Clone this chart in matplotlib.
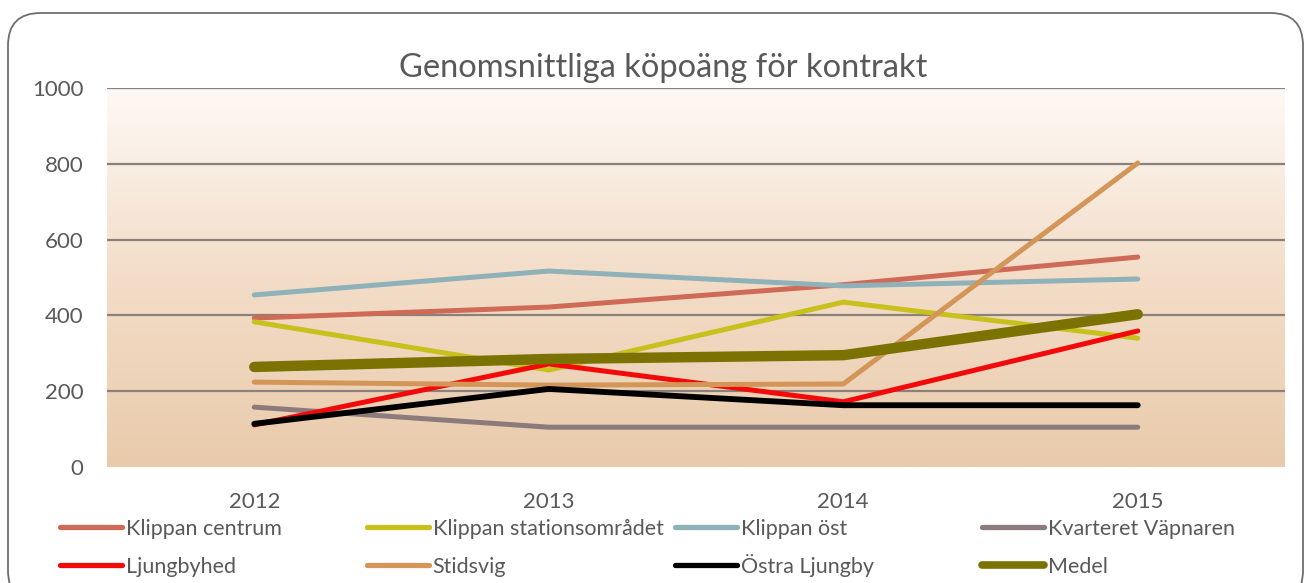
import matplotlib
matplotlib.use("Agg")
import matplotlib.pyplot as plt
import numpy as np
from matplotlib.patches import FancyBboxPatch
from matplotlib.lines import Line2D
from matplotlib.colors import LinearSegmentedColormap

plt.rcParams['font.family'] = ['Lato', 'DejaVu Sans']

years = ["2012", "2013", "2014", "2015"]
klippan_centrum = [393, 422, 481, 554]
klippan_station = [383, 256, 435, 340]
klippan_ost = [454, 517, 478, 496]
kvarteret_vapnaren = [158, 105, 105, 105]
ljungbyhed = [111, 272, 172, 359]
stidsvig = [224, 216, 219, 802]
ostra_ljungby = [114, 206, 163, 163]
medel = [264, 285, 295, 403]

series_names = ["Klippan centrum", "Klippan stationsområdet", "Klippan öst",
                "Kvarteret Väpnaren", "Ljungbyhed", "Stidsvig", "Östra Ljungby", "Medel"]
series_values = [klippan_centrum, klippan_station, klippan_ost, kvarteret_vapnaren,
                 ljungbyhed, stidsvig, ostra_ljungby, medel]
colors = ["#CF6A57", "#C8C01C", "#8FB1B9", "#8C7A7C",
          "#F20A0A", "#D49558", "#000000", "#7A7302"]
widths = [3.6, 3.6, 3.6, 3.6, 3.6, 3.6, 4.2, 7.5]

W, H = 1306, 583
fig = plt.figure(figsize=(W / 100, H / 100), dpi=100)
fig.patch.set_facecolor("white")

# rounded border
border = FancyBboxPatch((8 / W, -20 / H), (1295) / W, (583 - 13 + 20) / H,
                       boxstyle="round,pad=0,rounding_size=0.025",
                       transform=fig.transFigure, facecolor="none",
                       edgecolor="#6E6E6E", linewidth=1.3, mutation_aspect=W / H)
fig.add_artist(border)

ax = fig.add_axes([107 / W, (583 - 467) / H, 1178 / W, 379 / H])
ax.set_xlim(-0.5, 3.5)
ax.set_ylim(0, 1000)

# gradient background
cmap = LinearSegmentedColormap.from_list("bg", ["#E9CBAB", "#F3DDC8", "#FEF9F5"])
grad = np.linspace(0, 1, 256).reshape(-1, 1)
ax.imshow(grad, cmap=cmap, origin="lower", aspect="auto",
          extent=(-0.5, 3.5, 0, 1000), zorder=0)
ax.set_facecolor("none")

x = np.arange(len(years))
for name, vals, c, lw in zip(series_names, series_values, colors, widths):
    ax.plot(x, vals, color=c, lw=lw, label=name, zorder=3,
            solid_capstyle="round", solid_joinstyle="round")

for yv in [200, 400, 600, 800, 1000]:
    ax.axhline(yv, color="#8A817C", lw=1.6, zorder=2)

ax.set_xticks(x)
ax.set_xticklabels(years)
ax.set_yticks([0, 200, 400, 600, 800, 1000])
ax.tick_params(axis="both", length=0, labelsize=16, colors="#595959")
ax.tick_params(axis="y", pad=17)
ax.tick_params(axis="x", pad=18)
for s in ax.spines.values():
    s.set_visible(False)

fig.text(663 / W, (583 - 68) / H, "Genomsnittliga köpoäng för kontrakt",
         ha="center", va="center", fontsize=23.5, color="#595959")

# legend: 4 columns, 2 rows, each entry placed separately (bottom aligned)
col_x = [60, 367, 675, 982]
row_bottom = [539, 577]
order = [[0, 4], [1, 5], [2, 6], [3, 7]]
for cx, idx in zip(col_x, order):
    for ry, i in zip(row_bottom, idx):
        h = Line2D([], [], color=colors[i], lw=(5.5 if i == 7 else 3.8),
                   solid_capstyle="round")
        leg = fig.legend([h], [series_names[i]], loc="lower left",
                         bbox_to_anchor=(cx / W, (583 - ry) / H),
                         bbox_transform=fig.transFigure, frameon=False,
                         fontsize=15.5, handlelength=2.9, handletextpad=0.15,
                         borderpad=0, borderaxespad=0)
        for t in leg.get_texts():
            t.set_color("#595959")

fig.savefig("out.png", dpi=100)
